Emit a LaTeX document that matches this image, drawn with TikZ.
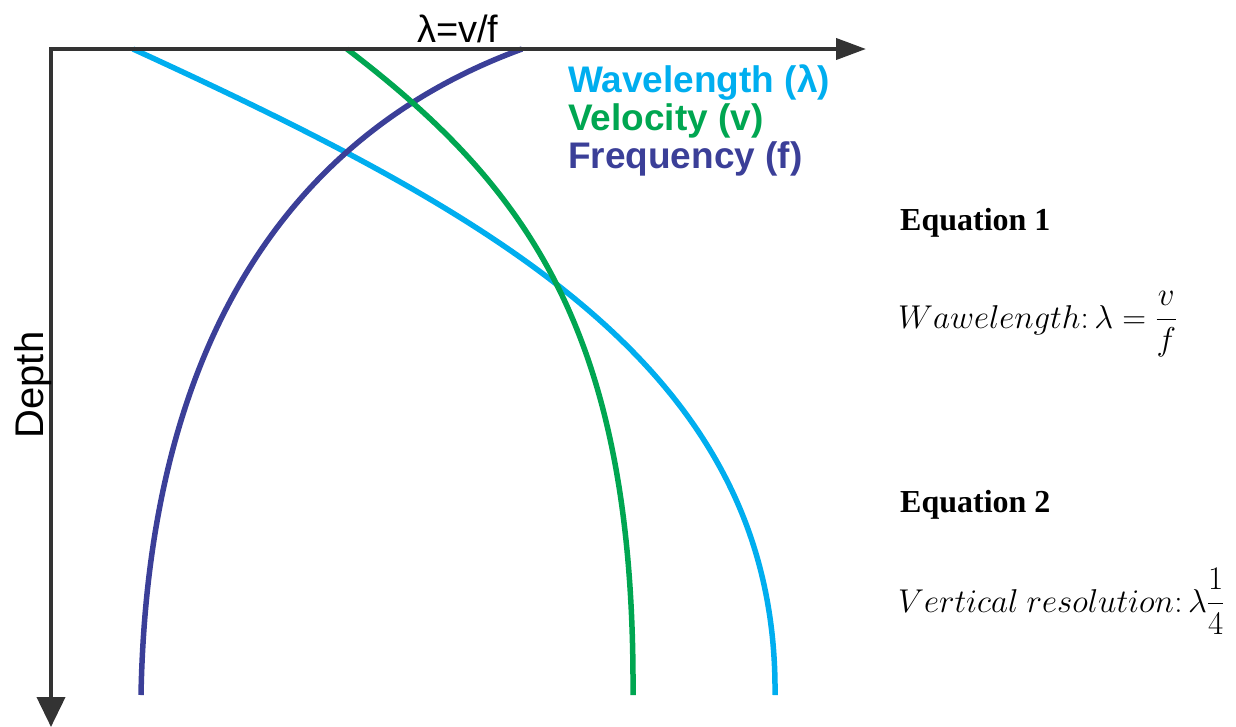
\RequirePackage{fix-cm}
\documentclass[tikz,border=0pt]{standalone}
\usepackage{amsmath}
\usepackage{fontspec}
\setmainfont{Liberation Serif}
\newfontfamily\labelfont{Liberation Sans}
\usetikzlibrary{arrows.meta}
\definecolor{wavecol}{HTML}{00AEEF}
\definecolor{velcol}{HTML}{00A651}
\definecolor{freqcol}{HTML}{3B3F98}
\definecolor{axiscol}{HTML}{333333}
\tikzset{
  axisline/.style={draw=axiscol, line width=4pt, line join=miter},
  curveline/.style={line width=5.5pt},
  legendtext/.style={anchor=base west, inner sep=0pt, font=\labelfont\bfseries\fontsize{37}{40}\selectfont},
  eqhead/.style={anchor=base west, inner sep=0pt, font=\bfseries\fontsize{32}{36}\selectfont},
  eqtext/.style={anchor=base west, inner sep=0pt, font=\fontsize{33}{38}\selectfont},
}

\begin{document}
\begin{tikzpicture}[x=1pt, y=-1pt]
\useasboundingbox (0,0) rectangle (1236,726);
% Curves (wavelength, frequency, velocity)
\draw[curveline, wavecol] (133,49) .. controls (495,215) and (778,370) .. (775,695);
\draw[curveline, freqcol] (522,49) .. controls (300,130) and (148,330) .. (141,695);
\draw[curveline, velcol] (347,49) .. controls (525,185) and (635,330) .. (633,695);
% Axes
\coordinate (origin) at (51,49);
\coordinate (xend) at (866,49);
\coordinate (yend) at (51,727);
\draw[axisline, {Triangle[length=30pt,width=21pt]}-{Triangle[length=30pt,width=28pt]}]
  (xend) -- (origin) -- (yend);
\node[anchor=base west, inner sep=0pt, font=\labelfont\fontsize{38}{42}\selectfont]
  (relation) at (417,42) {λ=v/f};
\node[rotate=90, anchor=base, inner sep=0pt, font=\labelfont\fontsize{40}{44}\selectfont]
  (depth) at (43,385) {Depth};
% Legend
\foreach \n/\y/\col/\txt in {1/92/wavecol/Wavelength (λ), 2/130/velcol/Velocity (v), 3/168/freqcol/Frequency (f)}{
  \node[legendtext, text=\col] (legend\n) at (568,\y) {\txt};
}
% Equations
\node[eqhead] (eqhead1) at (900,230) {Equation 1};
\node[eqtext] (eq1) at (898,328) {$Wawelength{:}\,\lambda=\dfrac{v}{f}$};
\node[eqhead] (eqhead2) at (900,512) {Equation 2};
\node[eqtext] (eq2) at (898,612) {$Vertical\ resolution{:}\,\lambda\dfrac{1}{4}$};
\end{tikzpicture}
\end{document}
